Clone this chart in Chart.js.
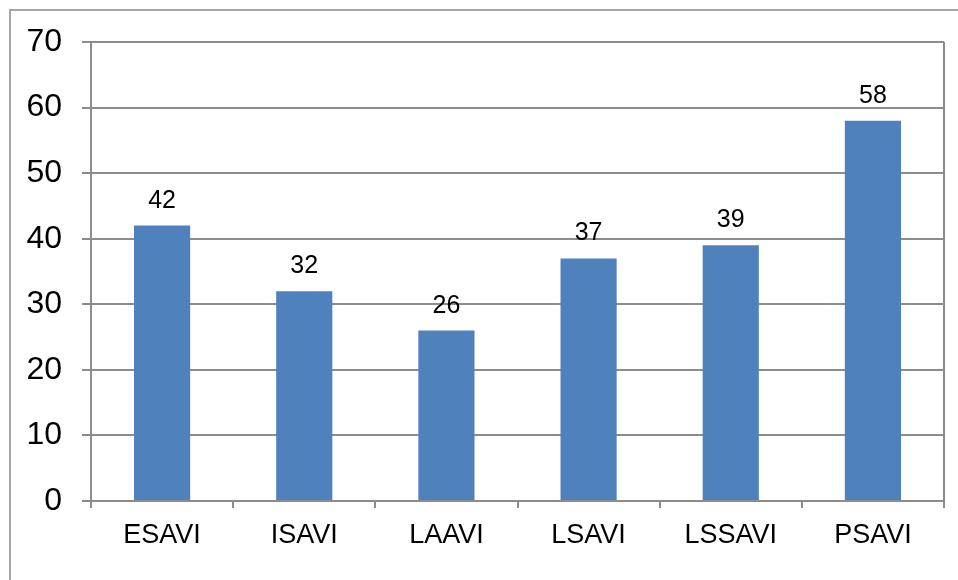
<!DOCTYPE html>
<html lang="en">
<head>
  <meta charset="UTF-8">
  <title>Index comparison</title>
  <script src="https://cdn.jsdelivr.net/npm/chart.js"></script>
  <style>
    html, body { margin: 0; padding: 0; background: #fff; }
    #wrap { width: 958px; height: 580px; }
  </style>
</head>
<body>
  <div id="wrap"><canvas id="chart" width="958" height="580"></canvas></div>
  <script>
    const categories = ['ESAVI', 'ISAVI', 'LAAVI', 'LSAVI', 'LSSAVI', 'PSAVI'];
    const values = [42, 32, 26, 37, 39, 58];
    const yTicks = [0, 10, 20, 30, 40, 50, 60, 70];

    const gridColor = '#8c8c8c';

    // outer frame, right plot edge and value labels
    const extras = {
      id: 'extras',
      beforeDraw(chart) {
        const ctx = chart.ctx;
        ctx.save();
        ctx.strokeStyle = '#a6a6a6';
        ctx.lineWidth = 2;
        ctx.beginPath();
        ctx.moveTo(10, 600);
        ctx.lineTo(10, 10);
        ctx.lineTo(980, 10);
        ctx.stroke();
        ctx.restore();
      },
      afterDatasetsDraw(chart) {
        const ctx = chart.ctx;
        const a = chart.chartArea;
        ctx.save();
        ctx.strokeStyle = gridColor;
        ctx.lineWidth = 2;
        ctx.beginPath();
        ctx.moveTo(a.right, a.top);
        ctx.lineTo(a.right, a.bottom + 7);
        ctx.stroke();
        ctx.fillStyle = '#000';
        ctx.font = '25px "Liberation Sans", Arial, sans-serif';
        ctx.textAlign = 'center';
        ctx.textBaseline = 'alphabetic';
        chart.getDatasetMeta(0).data.forEach((bar, i) => {
          ctx.fillText(String(values[i]), bar.x, bar.y - 18);
        });
        ctx.restore();
      }
    };

    new Chart(document.getElementById('chart'), {
      type: 'bar',
      data: {
        labels: categories,
        datasets: [{
          data: values,
          backgroundColor: '#4f81bd',
          borderWidth: 0,
          categoryPercentage: 1,
          barPercentage: 0.395
        }]
      },
      options: {
        responsive: false,
        animation: false,
        layout: { padding: { left: 10, top: 42, right: 14, bottom: 0 } },
        plugins: { legend: { display: false }, tooltip: { enabled: false } },
        scales: {
          x: {
            grid: { drawOnChartArea: false, drawTicks: true, tickLength: 7, color: gridColor, lineWidth: 2 },
            border: { color: gridColor, width: 2 },
            ticks: { color: '#000', padding: 11, font: { family: '"Liberation Sans", Arial, sans-serif', size: 27 } },
            afterFit(s) { s.height = 79; }
          },
          y: {
            min: 0, max: 70,
            afterBuildTicks(s) { s.ticks = yTicks.map(v => ({ value: v })); },
            grid: { color: gridColor, lineWidth: 2, tickLength: 9 },
            border: { color: gridColor, width: 2 },
            ticks: { color: '#000', padding: 20, font: { family: '"Liberation Sans", Arial, sans-serif', size: 32 } },
            afterFit(s) { s.width = 81; }
          }
        }
      },
      plugins: [extras]
    });
  </script>
</body>
</html>
